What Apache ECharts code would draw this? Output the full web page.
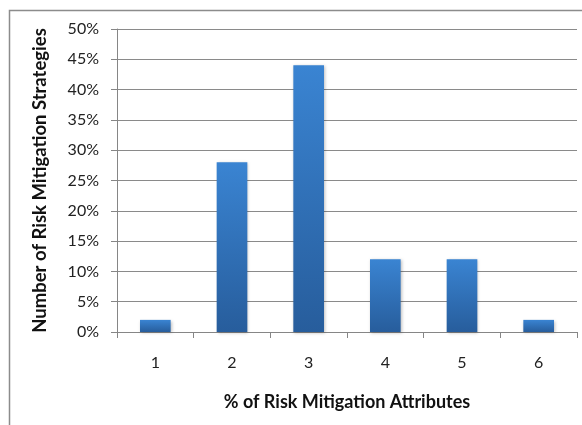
<!DOCTYPE html>
<html><head><meta charset="utf-8">
<script src="https://cdn.jsdelivr.net/npm/echarts@6/dist/echarts.min.js"></script>
<style>html,body{margin:0;padding:0;background:#fff}#c{width:582px;height:425px}</style>
</head><body><div id="c"></div>
<script>
const categories = ['1','2','3','4','5','6'];
const values = [2, 28, 44, 12, 12, 2];
const yTicks = {min: 0, max: 50, interval: 5};
const xTitle = '% of Risk Mitigation Attributes';
const yTitle = 'Number of Risk Mitigation Strategies';

const font = 'Lato, "Open Sans", sans-serif';
const chart = echarts.init(document.getElementById('c'));
chart.setOption({
  animation: false,
  graphic: [{type:'rect', shape:{x:9.5,y:10.5,width:700,height:600}, style:{fill:'none', stroke:'#8c8c8c', lineWidth:1.5}, z:-1}],
  grid: {left:117, top:29, right:5, bottom:93},
  xAxis: {
    type:'category', data: categories,
    name: xTitle, nameLocation:'middle', nameGap:61,
    nameTextStyle:{fontFamily:font, fontSize:18, fontWeight:'bold', color:'#111'},
    axisLine:{lineStyle:{color:'#868686', width:1}},
    axisTick:{show:true, length:6, lineStyle:{color:'#868686'}},
    axisLabel:{fontFamily:font, fontSize:16, color:'#222', margin:23}
  },
  yAxis: {
    type:'value', min:yTicks.min, max:yTicks.max, interval:yTicks.interval,
    name: yTitle, nameLocation:'middle', nameGap:67, nameRotate:90,
    nameTextStyle:{fontFamily:font, fontSize:18.5, fontWeight:'bold', color:'#111'},
    axisLine:{show:true, lineStyle:{color:'#868686', width:1}},
    axisTick:{show:true, length:6, lineStyle:{color:'#868686'}},
    axisLabel:{fontFamily:font, fontSize:16, color:'#222', margin:18, formatter: v => v + '%'},
    splitLine:{lineStyle:{color:'#8a8a8a', width:1}}
  },
  series: [{
    type:'bar', data: values, barWidth:'40%',
    itemStyle:{
      color: new echarts.graphic.LinearGradient(0,0,0,1,[{offset:0,color:'#3a84d2'},{offset:1,color:'#275d9c'}]),
      shadowColor:'rgba(0,0,0,0.25)', shadowBlur:3, shadowOffsetX:1, shadowOffsetY:1
    }
  }]
});
</script></body></html>
